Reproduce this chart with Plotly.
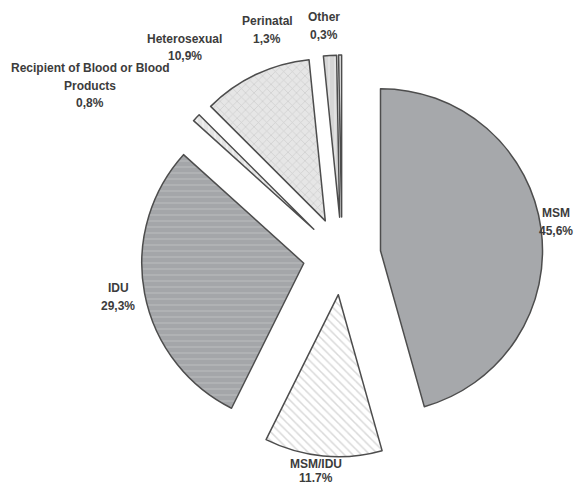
import plotly.graph_objects as go

# Transmission categories, clockwise from 12 o'clock
categorias = ["MSM", "MSM/IDU", "IDU", "Recipient of Blood or Blood Products",
              "Heterosexual", "Perinatal", "Other"]
percentuais = [45.6, 11.7, 29.3, 0.8, 10.9, 1.3, 0.3]
rotulos_pct = ["45,6%", "11.7%", "29,3%", "0,8%", "10,9%", "1,3%", "0,3%"]
linhas_rotulo = [["MSM"], ["MSM/IDU"], ["IDU"], ["Recipient of Blood or Blood", "Products"],
                 ["Heterosexual"], ["Perinatal"], ["Other"]]

# page body keeps its 8px margin on every side; size the figure so no scrollbars appear
MARGEM = 8
W, H = 584 - 2 * MARGEM, 495 - 2 * MARGEM

# page-pixel position (centre of first line) and line spacing of each label
POS_ROTULO = [(556, 213), (316, 464), (118, 288), (90, 68), (185, 39), (267, 21), (324, 17)]
LINHA = [17.5, 14, 17.5, 17.5, 17.5, 17.5, 17.5]

fundos = ["#a6a8ab", "#ffffff", "#a4a6a9", "#e4e4e4", "#e6e6e6", "#d6d6d6", "#e2e2e2"]
formas = ["", "\\", "-", "|", "x", "|", "|"]
frentes = ["#a6a8ab", "#b4b4b4", "#c4c6c8", "#ffffff", "#b8b8b8", "#f4f4f4", "#f6f6f6"]

fig = go.Figure(go.Pie(
    labels=categorias,
    values=percentuais,
    sort=False,
    direction="clockwise",
    rotation=0,
    pull=[0.24] * len(categorias),
    textinfo="none",
    showlegend=False,
    domain=dict(x=[0.2343, 0.9417], y=[0.0629, 0.9017]),
    marker=dict(
        colors=fundos,
        line=dict(color="#4d4d4d", width=1.5),
        pattern=dict(shape=formas, fgcolor=frentes, bgcolor=fundos,
                     size=6, solidity=0.25, fillmode="overlay"),
    ),
))

anots = []
for linhas, pct, (px_, py_), dy in zip(linhas_rotulo, rotulos_pct, POS_ROTULO, LINHA):
    for i, t in enumerate(linhas + [pct]):
        anots.append(dict(
            text="<b>%s</b>" % t,
            x=(px_ - MARGEM) / W, y=1 - (py_ - MARGEM + i * dy) / H,
            xref="paper", yref="paper", xanchor="center", yanchor="middle",
            showarrow=False, font=dict(family="Liberation Sans", size=12, color="#3c3c3c"),
        ))

fig.update_layout(
    width=W, height=H,
    margin=dict(l=0, r=0, t=0, b=0),
    paper_bgcolor="white",
    plot_bgcolor="white",
    annotations=anots,
)

fig.write_html("out.html")
